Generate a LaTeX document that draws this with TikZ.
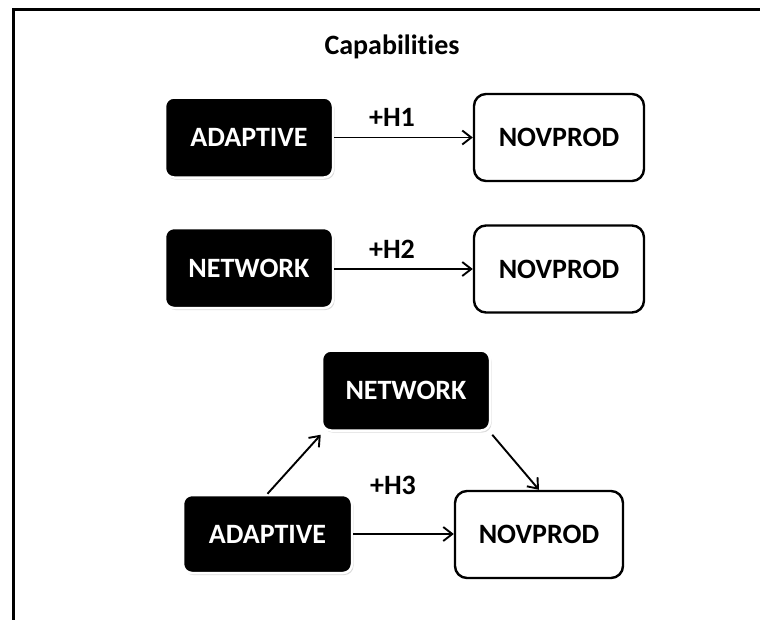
\documentclass[tikz,border=0pt]{standalone}
\usepackage{fontspec}
\setmainfont{Carlito}[Ligatures=NoCommon]
\usetikzlibrary{arrows.meta,shadows,calc}
\begin{document}
\begin{tikzpicture}[x=1pt,y=-1pt,
  darkbox/.style={rectangle,rounded corners=9pt,fill=black,draw=white,line width=2.5pt,
    text=white,font=\fontsize{28}{30}\selectfont\bfseries,inner sep=0pt,
    minimum width=168pt,minimum height=80pt,
    drop shadow={opacity=0.28,shadow xshift=1.5pt,shadow yshift=-2pt}},
  lightbox/.style={rectangle,rounded corners=12pt,fill=white,draw=black,line width=2.4pt,
    text=black,font=\fontsize{28}{30}\selectfont\bfseries,inner sep=0pt,
    minimum width=170pt,minimum height=87pt},
  lbl/.style={font=\fontsize{28}{30}\selectfont\bfseries,inner sep=0pt},
  conn/.style={line width=1.9pt,-{Straight Barb[length=9pt,width=14pt,line width=1.9pt]}}
]
\useasboundingbox (0,0) rectangle (760,619);
\fill[white] (0,0) rectangle (760,619);
% frame
\draw[line width=3pt] (13,625) -- (13,9.5) -- (765,9.5);
% title
\node[lbl] (title) at (392,47) {Capabilities};
% row 1
\node[darkbox] (a1) at (249,137.5) {ADAPTIVE};
\node[lightbox] (p1) at (559,137.5) {NOVPROD};
\draw[conn] (a1.east) -- (p1.west);
\node[lbl] (h1) at (392,117) {+H1};
% row 2
\node[darkbox] (n2) at (249,268) {NETWORK};
\node[lightbox] (p2) at (559,269) {NOVPROD};
\draw[conn] (n2.east |- p2.west) -- (p2.west);
\node[lbl] (h2) at (392,249) {+H2};
% row 3
\node[darkbox] (n3) at (406,390.5) {NETWORK};
\node[darkbox,minimum width=169pt,minimum height=78pt] (a3) at (267.5,534) {ADAPTIVE};
\node[lightbox,minimum width=168pt] (p3) at (539,534.5) {NOVPROD};
\draw[conn] (a3.east) -- (a3.east -| p3.west);
\draw[conn] (a3.north) -- ($(n3.south west)+(0,3)$);
\draw[conn] ($(n3.south east)+(1,3)$) -- (p3.north);
\node[lbl] (h3) at (393,485) {+H3};
\end{tikzpicture}
\end{document}
